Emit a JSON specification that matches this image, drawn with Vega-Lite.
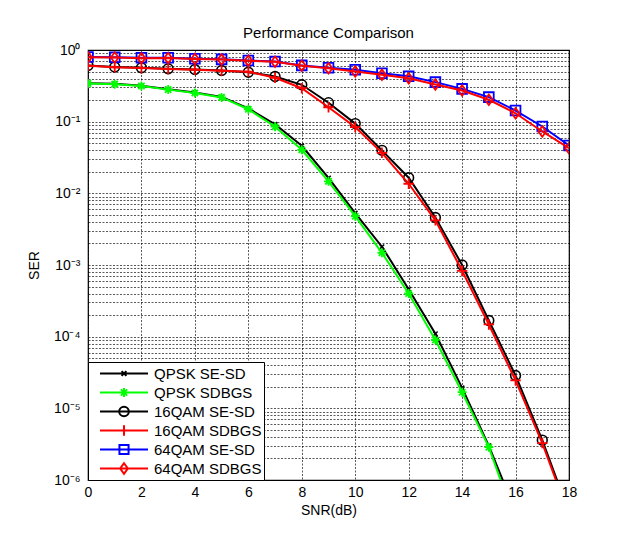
{
  "$schema": "https://vega.github.io/schema/vega-lite/v6.json",
  "width": 481,
  "height": 430,
  "autosize": "none",
  "padding": {"left": 88, "top": 50, "right": 52, "bottom": 55},
  "background": "white",
  "config": {
    "font": "Liberation Sans",
    "view": {"stroke": "#000000", "strokeWidth": 1.2},
    "axis": {
      "gridColor": "#000000",
      "gridDash": [2, 1.5],
      "gridOpacity": 0.65,
      "gridWidth": 1,
      "domain": false,
      "ticks": false,
      "labelColor": "#000000",
      "labelFontSize": 14,
      "labelFont": "Liberation Sans",
      "titleFont": "Liberation Sans",
      "titleFontSize": 14,
      "titleFontWeight": "normal",
      "titleColor": "#000000",
      "labelFlush": false,
      "labelOverlap": false
    }
  },
  "title": {"text": "Performance Comparison", "fontSize": 15, "fontWeight": "normal", "font": "Liberation Sans", "color": "#000000", "frame": "group", "offset": 2},
  "datasets": {
    "ser": [
      {"snr": 0, "ser": 0.344, "series": "QPSK SE-SD"},
      {"snr": 1, "ser": 0.338, "series": "QPSK SE-SD"},
      {"snr": 2, "ser": 0.318, "series": "QPSK SE-SD"},
      {"snr": 3, "ser": 0.283, "series": "QPSK SE-SD"},
      {"snr": 4, "ser": 0.255, "series": "QPSK SE-SD"},
      {"snr": 5, "ser": 0.221, "series": "QPSK SE-SD"},
      {"snr": 6, "ser": 0.153, "series": "QPSK SE-SD"},
      {"snr": 7, "ser": 0.092, "series": "QPSK SE-SD"},
      {"snr": 8, "ser": 0.046, "series": "QPSK SE-SD"},
      {"snr": 9, "ser": 0.0164, "series": "QPSK SE-SD"},
      {"snr": 10, "ser": 0.0053, "series": "QPSK SE-SD"},
      {"snr": 11, "ser": 0.0018, "series": "QPSK SE-SD"},
      {"snr": 12, "ser": 4.6e-4, "series": "QPSK SE-SD"},
      {"snr": 13, "ser": 1.1e-4, "series": "QPSK SE-SD"},
      {"snr": 14, "ser": 1.93e-5, "series": "QPSK SE-SD"},
      {"snr": 15, "ser": 3.0e-6, "series": "QPSK SE-SD"},
      {"snr": 16, "ser": 3.6e-7, "series": "QPSK SE-SD"},
      {"snr": 0, "ser": 0.342, "series": "QPSK SDBGS"},
      {"snr": 1, "ser": 0.334, "series": "QPSK SDBGS"},
      {"snr": 2, "ser": 0.314, "series": "QPSK SDBGS"},
      {"snr": 3, "ser": 0.28, "series": "QPSK SDBGS"},
      {"snr": 4, "ser": 0.251, "series": "QPSK SDBGS"},
      {"snr": 5, "ser": 0.218, "series": "QPSK SDBGS"},
      {"snr": 6, "ser": 0.149, "series": "QPSK SDBGS"},
      {"snr": 7, "ser": 0.085, "series": "QPSK SDBGS"},
      {"snr": 8, "ser": 0.0405, "series": "QPSK SDBGS"},
      {"snr": 9, "ser": 0.0147, "series": "QPSK SDBGS"},
      {"snr": 10, "ser": 0.0048, "series": "QPSK SDBGS"},
      {"snr": 11, "ser": 0.00148, "series": "QPSK SDBGS"},
      {"snr": 12, "ser": 4.0e-4, "series": "QPSK SDBGS"},
      {"snr": 13, "ser": 9.0e-5, "series": "QPSK SDBGS"},
      {"snr": 14, "ser": 1.68e-5, "series": "QPSK SDBGS"},
      {"snr": 15, "ser": 2.87e-6, "series": "QPSK SDBGS"},
      {"snr": 16, "ser": 2.6e-7, "series": "QPSK SDBGS"},
      {"snr": 0, "ser": 0.608, "series": "16QAM SE-SD"},
      {"snr": 1, "ser": 0.578, "series": "16QAM SE-SD"},
      {"snr": 2, "ser": 0.565, "series": "16QAM SE-SD"},
      {"snr": 3, "ser": 0.548, "series": "16QAM SE-SD"},
      {"snr": 4, "ser": 0.535, "series": "16QAM SE-SD"},
      {"snr": 5, "ser": 0.518, "series": "16QAM SE-SD"},
      {"snr": 6, "ser": 0.49, "series": "16QAM SE-SD"},
      {"snr": 7, "ser": 0.427, "series": "16QAM SE-SD"},
      {"snr": 8, "ser": 0.327, "series": "16QAM SE-SD"},
      {"snr": 9, "ser": 0.184, "series": "16QAM SE-SD"},
      {"snr": 10, "ser": 0.094, "series": "16QAM SE-SD"},
      {"snr": 11, "ser": 0.0398, "series": "16QAM SE-SD"},
      {"snr": 12, "ser": 0.0165, "series": "16QAM SE-SD"},
      {"snr": 13, "ser": 0.0046, "series": "16QAM SE-SD"},
      {"snr": 14, "ser": 0.001, "series": "16QAM SE-SD"},
      {"snr": 15, "ser": 1.68e-4, "series": "16QAM SE-SD"},
      {"snr": 16, "ser": 2.87e-5, "series": "16QAM SE-SD"},
      {"snr": 17, "ser": 3.6e-6, "series": "16QAM SE-SD"},
      {"snr": 18, "ser": 3.5e-7, "series": "16QAM SE-SD"},
      {"snr": 0, "ser": 0.605, "series": "16QAM SDBGS"},
      {"snr": 1, "ser": 0.573, "series": "16QAM SDBGS"},
      {"snr": 2, "ser": 0.56, "series": "16QAM SDBGS"},
      {"snr": 3, "ser": 0.545, "series": "16QAM SDBGS"},
      {"snr": 4, "ser": 0.532, "series": "16QAM SDBGS"},
      {"snr": 5, "ser": 0.515, "series": "16QAM SDBGS"},
      {"snr": 6, "ser": 0.497, "series": "16QAM SDBGS"},
      {"snr": 7, "ser": 0.41, "series": "16QAM SDBGS"},
      {"snr": 8, "ser": 0.293, "series": "16QAM SDBGS"},
      {"snr": 9, "ser": 0.159, "series": "16QAM SDBGS"},
      {"snr": 10, "ser": 0.084, "series": "16QAM SDBGS"},
      {"snr": 11, "ser": 0.0367, "series": "16QAM SDBGS"},
      {"snr": 12, "ser": 0.0136, "series": "16QAM SDBGS"},
      {"snr": 13, "ser": 0.0042, "series": "16QAM SDBGS"},
      {"snr": 14, "ser": 8.3e-4, "series": "16QAM SDBGS"},
      {"snr": 15, "ser": 1.48e-4, "series": "16QAM SDBGS"},
      {"snr": 16, "ser": 2.45e-5, "series": "16QAM SDBGS"},
      {"snr": 17, "ser": 3.27e-6, "series": "16QAM SDBGS"},
      {"snr": 18, "ser": 3.2e-7, "series": "16QAM SDBGS"},
      {"snr": 0, "ser": 0.80, "series": "64QAM SE-SD"},
      {"snr": 1, "ser": 0.79, "series": "64QAM SE-SD"},
      {"snr": 2, "ser": 0.778, "series": "64QAM SE-SD"},
      {"snr": 3, "ser": 0.778, "series": "64QAM SE-SD"},
      {"snr": 4, "ser": 0.755, "series": "64QAM SE-SD"},
      {"snr": 5, "ser": 0.74, "series": "64QAM SE-SD"},
      {"snr": 6, "ser": 0.715, "series": "64QAM SE-SD"},
      {"snr": 7, "ser": 0.69, "series": "64QAM SE-SD"},
      {"snr": 8, "ser": 0.61, "series": "64QAM SE-SD"},
      {"snr": 9, "ser": 0.565, "series": "64QAM SE-SD"},
      {"snr": 10, "ser": 0.53, "series": "64QAM SE-SD"},
      {"snr": 11, "ser": 0.475, "series": "64QAM SE-SD"},
      {"snr": 12, "ser": 0.43, "series": "64QAM SE-SD"},
      {"snr": 13, "ser": 0.356, "series": "64QAM SE-SD"},
      {"snr": 14, "ser": 0.287, "series": "64QAM SE-SD"},
      {"snr": 15, "ser": 0.22, "series": "64QAM SE-SD"},
      {"snr": 16, "ser": 0.143, "series": "64QAM SE-SD"},
      {"snr": 17, "ser": 0.0857, "series": "64QAM SE-SD"},
      {"snr": 18, "ser": 0.0465, "series": "64QAM SE-SD"},
      {"snr": 0, "ser": 0.79, "series": "64QAM SDBGS"},
      {"snr": 1, "ser": 0.785, "series": "64QAM SDBGS"},
      {"snr": 2, "ser": 0.77, "series": "64QAM SDBGS"},
      {"snr": 3, "ser": 0.772, "series": "64QAM SDBGS"},
      {"snr": 4, "ser": 0.75, "series": "64QAM SDBGS"},
      {"snr": 5, "ser": 0.735, "series": "64QAM SDBGS"},
      {"snr": 6, "ser": 0.71, "series": "64QAM SDBGS"},
      {"snr": 7, "ser": 0.685, "series": "64QAM SDBGS"},
      {"snr": 8, "ser": 0.605, "series": "64QAM SDBGS"},
      {"snr": 9, "ser": 0.555, "series": "64QAM SDBGS"},
      {"snr": 10, "ser": 0.50, "series": "64QAM SDBGS"},
      {"snr": 11, "ser": 0.45, "series": "64QAM SDBGS"},
      {"snr": 12, "ser": 0.404, "series": "64QAM SDBGS"},
      {"snr": 13, "ser": 0.33, "series": "64QAM SDBGS"},
      {"snr": 14, "ser": 0.272, "series": "64QAM SDBGS"},
      {"snr": 15, "ser": 0.202, "series": "64QAM SDBGS"},
      {"snr": 16, "ser": 0.131, "series": "64QAM SDBGS"},
      {"snr": 17, "ser": 0.073, "series": "64QAM SDBGS"},
      {"snr": 18, "ser": 0.0427, "series": "64QAM SDBGS"}
    ]
  },
  "data": {"name": "ser"},
  "encoding": {
    "x": {
      "field": "snr", "type": "quantitative", "title": "SNR(dB)",
      "scale": {"domain": [0, 18], "nice": false, "zero": false},
      "axis": {"values": [0, 2, 4, 6, 8, 10, 12, 14, 16, 18], "labelPadding": 5, "titlePadding": 4}
    },
    "y": {
      "field": "ser", "type": "quantitative", "title": "SER",
      "scale": {"type": "log", "domain": [1e-6, 1], "nice": false},
      "axis": {
        "values": [1e-6, 2e-6, 3e-6, 4e-6, 5e-6, 6e-6, 7e-6, 8e-6, 9e-6,
                   1e-5, 2e-5, 3e-5, 4e-5, 5e-5, 6e-5, 7e-5, 8e-5, 9e-5,
                   1e-4, 2e-4, 3e-4, 4e-4, 5e-4, 6e-4, 7e-4, 8e-4, 9e-4,
                   1e-3, 2e-3, 3e-3, 4e-3, 5e-3, 6e-3, 7e-3, 8e-3, 9e-3,
                   1e-2, 2e-2, 3e-2, 4e-2, 5e-2, 6e-2, 7e-2, 8e-2, 9e-2,
                   0.1, 0.2, 0.3, 0.4, 0.5, 0.6, 0.7, 0.8, 0.9, 1],
        "labelExpr": "abs(log(datum.value)/LN10 - round(log(datum.value)/LN10)) < 0.01 ? '10' + ['⁰','⁻¹','⁻²','⁻³','⁻⁴','⁻⁵','⁻⁶'][-round(log(datum.value)/LN10)] : ''",
        "labelPadding": 8,
        "titlePadding": 12
      }
    }
  },
  "layer": [
    {"transform": [{"filter": "datum.series === 'QPSK SE-SD'"}], "mark": {"type": "line", "stroke": "#000000", "strokeWidth": 2, "clip": true}},
    {"transform": [{"filter": "datum.series === 'QPSK SE-SD'"}], "mark": {"type": "point", "shape": "M-1,-1L1,1M-1,1L1,-1", "size": 20, "stroke": "#000000", "strokeWidth": 1.5, "filled": false, "opacity": 1, "clip": true}},
    {"transform": [{"filter": "datum.series === 'QPSK SDBGS'"}], "mark": {"type": "line", "stroke": "#00ff00", "strokeWidth": 2, "clip": true}},
    {"transform": [{"filter": "datum.series === 'QPSK SDBGS'"}], "mark": {"type": "point", "shape": "M-1,0H1M0,-1V1M-0.7,-0.7L0.7,0.7M-0.7,0.7L0.7,-0.7", "size": 81, "stroke": "#00ff00", "strokeWidth": 1.8, "filled": false, "opacity": 1, "clip": true}},
    {"transform": [{"filter": "datum.series === '16QAM SE-SD'"}], "mark": {"type": "line", "stroke": "#000000", "strokeWidth": 2, "clip": true}},
    {"transform": [{"filter": "datum.series === '16QAM SE-SD'"}], "mark": {"type": "point", "shape": "circle", "size": 95, "stroke": "#000000", "strokeWidth": 1.6, "filled": false, "opacity": 1, "clip": true}},
    {"transform": [{"filter": "datum.series === '16QAM SDBGS'"}], "mark": {"type": "line", "stroke": "#ff0000", "strokeWidth": 2, "clip": true}},
    {"transform": [{"filter": "datum.series === '16QAM SDBGS'"}], "mark": {"type": "point", "shape": "M-1,0H1M0,-1V1", "size": 110, "stroke": "#ff0000", "strokeWidth": 1.8, "filled": false, "opacity": 1, "clip": true}},
    {"transform": [{"filter": "datum.series === '64QAM SE-SD'"}], "mark": {"type": "line", "stroke": "#0000ff", "strokeWidth": 2, "clip": true}},
    {"transform": [{"filter": "datum.series === '64QAM SE-SD'"}], "mark": {"type": "point", "shape": "square", "size": 95, "stroke": "#0000ff", "strokeWidth": 1.8, "filled": false, "opacity": 1, "clip": true}},
    {"transform": [{"filter": "datum.series === '64QAM SDBGS'"}], "mark": {"type": "line", "stroke": "#ff0000", "strokeWidth": 2, "clip": true}},
    {"transform": [{"filter": "datum.series === '64QAM SDBGS'"}], "mark": {"type": "point", "shape": "M0,-1L0.75,0L0,1L-0.75,0Z", "size": 110, "stroke": "#ff0000", "strokeWidth": 1.8, "filled": false, "opacity": 1, "clip": true}},
    {
      "mark": {"type": "point", "filled": false, "opacity": 0, "strokeWidth": 2, "clip": true},
      "encoding": {
        "color": {
          "field": "series", "type": "nominal",
          "scale": {"domain": ["QPSK SE-SD", "QPSK SDBGS", "16QAM SE-SD", "16QAM SDBGS", "64QAM SE-SD", "64QAM SDBGS"],
                    "range": ["#000000", "#00ff00", "#000000", "#ff0000", "#0000ff", "#ff0000"]},
          "legend": {
            "title": null, "orient": "bottom-left", "offset": 0,
            "strokeColor": "#000000", "fillColor": "#ffffff", "padding": 2,
            "labelFontSize": 15, "labelFont": "Liberation Sans", "labelColor": "#000000",
            "symbolSize": 2304, "symbolStrokeWidth": 2, "symbolOpacity": 1,
            "symbolOffset": 9, "labelOffset": 5, "clipHeight": 19, "rowPadding": 0
          }
        },
        "shape": {
          "field": "series", "type": "nominal",
          "scale": {"domain": ["QPSK SE-SD", "QPSK SDBGS", "16QAM SE-SD", "16QAM SDBGS", "64QAM SE-SD", "64QAM SDBGS"],
                    "range": [
                      "M-1,0H1M-0.1,-0.1L0.1,0.1M-0.1,0.1L0.1,-0.1",
                      "M-1,0H1M-0.19,0H0.19M0,-0.19V0.19M-0.13,-0.13L0.13,0.13M-0.13,0.13L0.13,-0.13",
                      "M-1,0H1M-0.2,0A0.2,0.2 0 1,1 0.2,0A0.2,0.2 0 1,1 -0.2,0",
                      "M-1,0H1M0,-0.22V0.22",
                      "M-1,0H1M-0.19,-0.19H0.19V0.19H-0.19Z",
                      "M-1,0H1M0,-0.22L0.16,0L0,0.22L-0.16,0Z"
                    ]},
          "legend": {
            "title": null, "orient": "bottom-left", "offset": 0,
            "strokeColor": "#000000", "fillColor": "#ffffff", "padding": 2,
            "labelFontSize": 15, "labelFont": "Liberation Sans", "labelColor": "#000000",
            "symbolSize": 2304, "symbolStrokeWidth": 2, "symbolOpacity": 1,
            "symbolOffset": 9, "labelOffset": 5, "clipHeight": 19, "rowPadding": 0
          }
        }
      }
    }
  ]
}
